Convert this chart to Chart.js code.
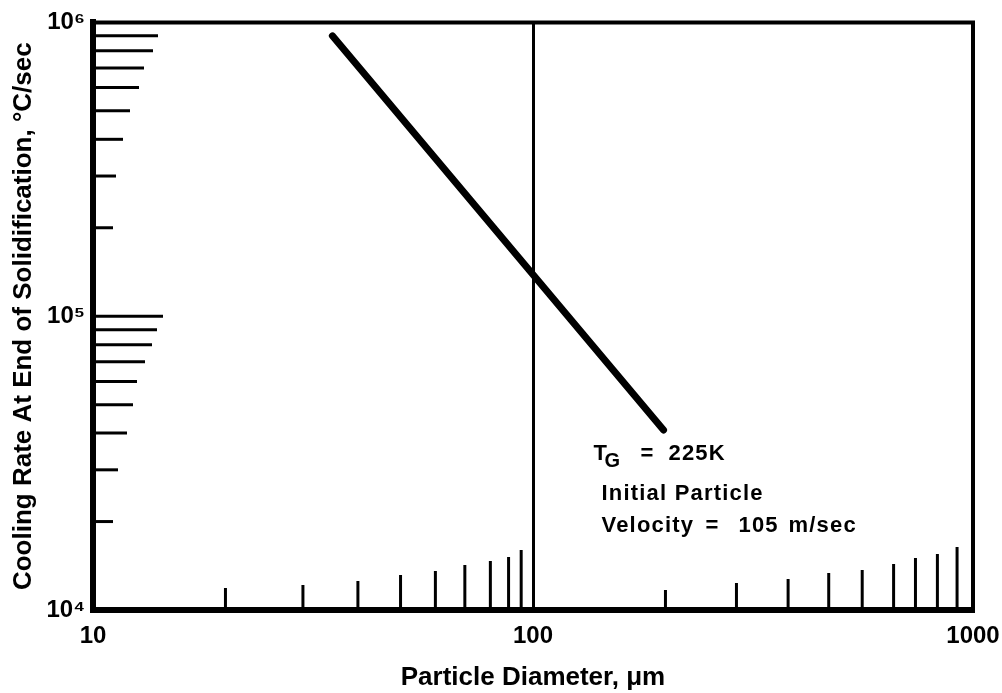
<!DOCTYPE html>
<html lang="en">
<head>
    <meta charset="UTF-8">
    <title>Cooling Rate vs Particle Diameter</title>
    <script src="https://cdn.jsdelivr.net/npm/chart.js"></script>
    <style>
        * {
            margin: 0;
            padding: 0;
            box-sizing: border-box;
        }

        body {
            background: #fff;
            width: 1002px;
            height: 693px;
            overflow: hidden;
        }

        .chart-box {
            position: relative;
            width: 1002px;
            height: 693px;
        }
    </style>
</head>
<body>
    <div class="chart-box">
        <canvas id="coolingChart"></canvas>
    </div>

    <script>
        // Data
        const diameters = [35, 198];              // um
        const coolingRates = [900000, 41000];     // degC/sec
        const xLabelValues = [10, 100, 1000];
        const yLabelValues = [10000, 100000, 1000000];
        const refDiameter = 100;                  // vertical line
        const xMinorTicks = [20, 30, 40, 50, 60, 70, 80, 88, 94,
                             200, 290, 380, 470, 560, 660, 740, 830, 920];
        const yMinorTicks = [20000, 30000, 40000, 50000, 60000, 70000, 80000, 90000, 100000,
                             200000, 300000, 400000, 500000, 600000, 700000, 800000, 900000];

        // Tick lengths (px), drawn inward like the original
        const xTickLen = [22, 25, 29, 35, 39, 45, 49, 53, 60,
                          20, 27, 31, 37, 40, 46, 52, 56, 63];
        const yTickLen = [20, 25, 34, 40, 44, 52, 59, 64, 70,
                          20, 23, 30, 37, 46, 51, 60, 65];

        const FONT = "'Liberation Sans', Arial, Helvetica, sans-serif";
        const sup = { 4: '\u2074', 5: '\u2075', 6: '\u2076' };

        // Ticks, frame and note drawn on top of the plot
        const paperMarks = {
            id: 'paperMarks',
            afterDatasetsDraw(chart) {
                const { ctx, chartArea: a, scales: { x, y } } = chart;
                ctx.save();
                ctx.strokeStyle = '#000';
                ctx.fillStyle = '#000';

                // top and right edges of the frame
                ctx.lineWidth = 4;
                ctx.beginPath();
                ctx.moveTo(a.left, a.top);
                ctx.lineTo(a.right, a.top);
                ctx.lineTo(a.right, a.bottom);
                ctx.stroke();

                ctx.lineWidth = 3;
                yMinorTicks.forEach((v, i) => {
                    const py = y.getPixelForValue(v);
                    ctx.beginPath();
                    ctx.moveTo(a.left, py);
                    ctx.lineTo(a.left + yTickLen[i], py);
                    ctx.stroke();
                });
                xMinorTicks.forEach((v, i) => {
                    const px = x.getPixelForValue(v);
                    ctx.beginPath();
                    ctx.moveTo(px, a.bottom);
                    ctx.lineTo(px, a.bottom - xTickLen[i]);
                    ctx.stroke();
                });

                // note next to the curve
                const nx = x.getPixelForValue(150) - 17;
                const ny = y.getPixelForValue(32000) - 2;
                ctx.textBaseline = 'alphabetic';
                ctx.textAlign = 'left';
                ctx.letterSpacing = '1.2px';
                ctx.font = 'bold 22px ' + FONT;
                ctx.fillText('T', nx, ny);
                ctx.font = 'bold 20px ' + FONT;
                ctx.fillText('G', nx + 11, ny + 7);
                ctx.font = 'bold 22px ' + FONT;
                ctx.fillText('=', nx + 47, ny);
                ctx.fillText('225K', nx + 75, ny);
                ctx.fillText('Initial Particle', nx + 8, ny + 40);
                ctx.fillText('Velocity', nx + 8, ny + 72);
                ctx.fillText('=', nx + 112, ny + 72);
                ctx.fillText('105', nx + 145, ny + 72);
                ctx.fillText('m/sec', nx + 195, ny + 72);
                ctx.restore();
            }
        };

        new Chart(document.getElementById('coolingChart'), {
            type: 'line',
            data: {
                datasets: [{
                    data: diameters.map((d, i) => ({ x: d, y: coolingRates[i] })),
                    borderColor: '#000',
                    borderWidth: 7,
                    borderCapStyle: 'round',
                    pointRadius: 0,
                    tension: 0
                }]
            },
            options: {
                responsive: true,
                maintainAspectRatio: false,
                animation: false,
                layout: { padding: { top: 20, right: 29, left: 0, bottom: 0 } },
                plugins: {
                    legend: { display: false },
                    tooltip: { enabled: false }
                },
                scales: {
                    x: {
                        type: 'logarithmic',
                        min: 10,
                        max: 1000,
                        afterBuildTicks: s => { s.ticks = xLabelValues.map(v => ({ value: v })); },
                        afterFit: s => {
                            s.height = 83;
                            s.paddingLeft = 0;
                            s.paddingRight = 0;
                        },
                        border: { color: '#000', width: 6 },
                        grid: {
                            drawTicks: false,
                            lineWidth: 3,
                            color: c => (c.tick && c.tick.value === refDiameter) ? '#000' : 'rgba(0,0,0,0)'
                        },
                        ticks: {
                            color: '#000',
                            padding: 12,
                            maxRotation: 0,
                            font: { family: FONT, size: 24, weight: 'bold' },
                            callback: v => String(v)
                        },
                        title: {
                            display: true,
                            text: 'Particle Diameter, \u03bcm',
                            color: '#000',
                            padding: { top: 0, bottom: 0 },
                            font: { family: FONT, size: 26, weight: 'bold' }
                        }
                    },
                    y: {
                        type: 'logarithmic',
                        min: 10000,
                        max: 1000000,
                        afterBuildTicks: s => { s.ticks = yLabelValues.map(v => ({ value: v })); },
                        afterFit: s => { s.width = 93; },
                        border: { color: '#000', width: 6 },
                        grid: { display: false, drawTicks: false },
                        ticks: {
                            color: '#000',
                            padding: 8,
                            font: { family: FONT, size: 24, weight: 'bold' },
                            callback: v => '10' + sup[Math.round(Math.log10(v))]
                        },
                        title: {
                            display: true,
                            text: 'Cooling Rate At End of Solidification, \u00b0C/sec',
                            color: '#000',
                            padding: { top: 8, bottom: 0 },
                            font: { family: FONT, size: 26, weight: 'bold' }
                        }
                    }
                }
            },
            plugins: [paperMarks]
        });
    </script>
</body>
</html>
